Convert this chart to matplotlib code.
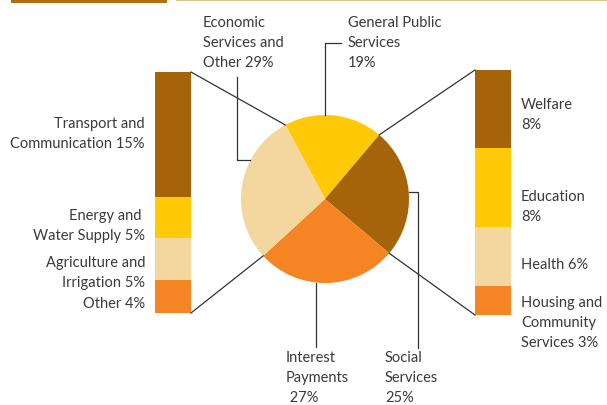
import numpy as np
import matplotlib
matplotlib.use("Agg")
import matplotlib.pyplot as plt
from matplotlib.patches import Rectangle

# --- data -----------------------------------------------------------------
pie_labels = ["General Public\nServices\n19%", "Social\nServices\n25%",
              "Interest\nPayments\n 27%", "Economic\nServices and\nOther 29%"]
pie_values = [19, 25, 27, 29]

econ_labels = ["Transport and\nCommunication 15%", "Energy and \nWater Supply 5%",
               "Agriculture and\nIrrigation 5%", "Other 4%"]
econ_values = [15, 5, 5, 4]

social_labels = ["Welfare\n8%", "Education\n8%", "Health 6%",
                 "Housing and\nCommunity\nServices 3%"]
social_values = [8, 8, 6, 3]

# --- styling --------------------------------------------------------------
BROWN = "#A5640A"
YELLOW = "#FFC907"
TAN = "#F3D79E"
ORANGE = "#F58523"
TEXT = "#3a3a3a"
LINE = "#333333"

pie_colors = [YELLOW, BROWN, ORANGE, TAN]
seg_colors = [BROWN, YELLOW, TAN, ORANGE]

plt.rcParams["font.family"] = ["Lato", "DejaVu Sans"]
FS = 10.5

W, H = 607, 405
fig = plt.figure(figsize=(W / 100, H / 100), dpi=100)
ax = fig.add_axes([0, 0, 1, 1])


def py(y):
    """Convert a top-down pixel row into the axis' bottom-up coordinate."""
    return H - y


# pie geometry
cx, cy, R = 325, py(199), 84
start = 118.2
wedges, _ = ax.pie(pie_values, colors=pie_colors, startangle=start,
                   counterclock=False, center=(cx, cy), radius=R,
                   wedgeprops=dict(linewidth=0))

# wedge boundary angles (degrees, counterclockwise from +x)
bounds = start - 360 * np.cumsum([0] + pie_values) / sum(pie_values)


def on_circle(angle_deg, r=R):
    a = np.deg2rad(angle_deg)
    return cx + r * np.cos(a), cy + r * np.sin(a)


# stacked breakdown bars
def stacked_bar(x0, width, top, bottom, values):
    total = sum(values)
    span = bottom - top
    edges = [top]
    for v in values:
        edges.append(edges[-1] + span * v / total)
    for i, v in enumerate(values):
        ax.bar(x0, height=py(edges[i]) - py(edges[i + 1]), bottom=py(edges[i + 1]),
               width=width, align="edge", color=seg_colors[i], linewidth=0)
    return edges


left_x, left_w, left_top, left_bot = 155, 36, 72, 313
right_x, right_w, right_top, right_bot = 475, 36, 70, 315
stacked_bar(left_x, left_w, left_top, left_bot, econ_values)
stacked_bar(right_x, right_w, right_top, right_bot, social_values)

lw = 0.9
# connectors from the economic wedge to its breakdown
econ_hi, econ_lo = bounds[3], bounds[4]
for (bx, by), ang in [((left_x + left_w, py(left_top)), econ_lo + 360),
                      ((left_x + left_w, py(left_bot)), econ_hi)]:
    px_, py_ = on_circle(ang)
    ax.plot([bx, px_], [by, py_], color=LINE, lw=lw)
# connectors from the social wedge to its breakdown
soc_hi, soc_lo = bounds[1], bounds[2]
for (bx, by), ang in [((right_x, py(right_top)), soc_hi),
                      ((right_x, py(right_bot)), soc_lo)]:
    px_, py_ = on_circle(ang)
    ax.plot([bx, px_], [by, py_], color=LINE, lw=lw)

# leader lines to the wedge labels
gx, gy = on_circle(90)
ax.plot([gx, gx, gx + 16], [gy, py(42.5), py(42.5)], color=LINE, lw=lw)
ex, ey = on_circle(152.5)
ax.plot([237, 237, ex], [py(77), ey, ey], color=LINE, lw=lw)
sx, sy = on_circle(5)
ax.plot([sx, 418, 418], [sy, sy, py(348)], color=LINE, lw=lw)
ix, iy = on_circle(-96)
ax.plot([ix, ix], [iy, py(347)], color=LINE, lw=lw)

# wedge labels
kw = dict(fontsize=FS, color=TEXT, linespacing=1.56, va="top")
ax.text(203, py(16), pie_labels[3], ha="left", **kw)
ax.text(348, py(16), pie_labels[0], ha="left", **kw)
ax.text(286, py(351), pie_labels[2], ha="left", **kw)
ax.text(385, py(351), pie_labels[1], ha="left", **kw)

# breakdown labels
left_label_y = [117, 209, 256, 297]
for lab, y in zip(econ_labels, left_label_y):
    ax.text(145, py(y), lab, ha="right", **kw)
right_label_y = [98, 190, 258, 296]
for lab, y in zip(social_labels, right_label_y):
    ax.text(521, py(y), lab, ha="left", **kw)

# header rules
ax.add_patch(Rectangle((11, py(2.5)), 156, 2.5, color="#B0700F", lw=0))
ax.add_patch(Rectangle((176, py(1.3)), W - 176, 1.3, color="#E2BE8C", lw=0))

ax.set_xlim(0, W)
ax.set_ylim(0, H)
ax.set_aspect("auto")
ax.axis("off")

fig.savefig("out.png", dpi=100)
